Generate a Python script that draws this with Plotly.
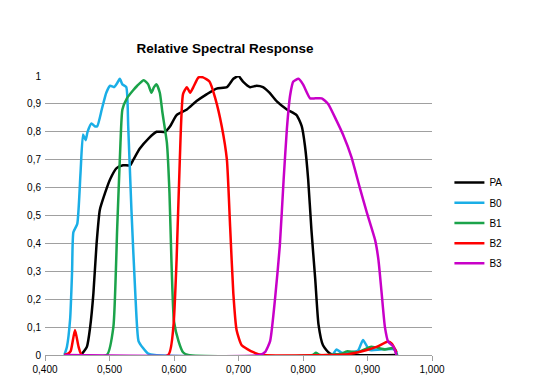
import plotly.graph_objects as go

# ---- data ----
pa_wl = [0.430, 0.455, 0.465, 0.470, 0.475, 0.480, 0.485, 0.493, 0.501, 0.511, 0.521, 0.532, 0.537,
         0.547, 0.560, 0.573, 0.586, 0.594, 0.604, 0.620, 0.635, 0.651, 0.666, 0.682, 0.692, 0.700,
         0.707, 0.718, 0.728, 0.738, 0.748, 0.759, 0.775, 0.790, 0.798, 0.803, 0.808, 0.813, 0.819,
         0.824, 0.831, 0.842, 0.945]
pa_val = [0, 0, 0.03, 0.10, 0.22, 0.40, 0.52, 0.58, 0.63, 0.67, 0.68, 0.68, 0.70,
          0.74, 0.775, 0.80, 0.80, 0.82, 0.86, 0.88, 0.91, 0.935, 0.955, 0.96, 0.99, 1.0,
          0.98, 0.96, 0.965, 0.96, 0.94, 0.91, 0.88, 0.86, 0.82, 0.75, 0.63, 0.45, 0.27,
          0.11, 0.035, 0.005, 0]

b0_wl = [0.430, 0.434, 0.439, 0.442, 0.444, 0.450, 0.455, 0.459, 0.463, 0.466, 0.472, 0.477, 0.481,
         0.488, 0.495, 0.501, 0.507, 0.512, 0.516, 0.520, 0.526, 0.529, 0.534, 0.540, 0.545, 0.552,
         0.560, 0.570, 0.845, 0.852, 0.860, 0.885, 0.893, 0.903, 0.920, 0.943, 0.946]
b0_val = [0, 0.03, 0.13, 0.30, 0.44, 0.47, 0.65, 0.79, 0.77, 0.80, 0.83, 0.82, 0.82,
          0.88, 0.94, 0.965, 0.96, 0.975, 0.99, 0.97, 0.96, 0.82, 0.52, 0.22, 0.05, 0.025,
          0.005, 0, 0, 0.02, 0.008, 0.015, 0.054, 0.018, 0.02, 0.02, 0]

b1_wl = [0.430, 0.496, 0.506, 0.512, 0.517, 0.520, 0.527, 0.537, 0.543, 0.553, 0.560, 0.565, 0.569,
         0.573, 0.578, 0.582, 0.589, 0.593, 0.596, 0.600, 0.607, 0.614, 0.622, 0.815, 0.820, 0.826,
         0.860, 0.868, 0.885, 0.906, 0.927, 0.940, 0.946]
b1_val = [0, 0, 0.10, 0.46, 0.76, 0.88, 0.92, 0.95, 0.965, 0.985, 0.97, 0.94, 0.96,
          0.97, 0.94, 0.87, 0.76, 0.58, 0.34, 0.12, 0.05, 0.01, 0, 0, 0.008, 0,
          0.005, 0.013, 0.01, 0.03, 0.02, 0.025, 0]

b2_wl = [0.430, 0.436, 0.440, 0.4465, 0.452, 0.457, 0.591, 0.599, 0.604, 0.609, 0.614, 0.620, 0.625,
         0.630, 0.638, 0.645, 0.655, 0.664, 0.674, 0.682, 0.687, 0.692, 0.697, 0.705, 0.723, 0.738,
         0.842, 0.870, 0.899, 0.915, 0.932, 0.938, 0.945]
b2_val = [0, 0.005, 0.015, 0.09, 0.03, 0, 0, 0.10, 0.34, 0.70, 0.935, 0.96, 0.94,
          0.96, 0.995, 0.995, 0.98, 0.92, 0.82, 0.70, 0.46, 0.22, 0.09, 0.035, 0.01, 0,
          0, 0.003, 0.018, 0.03, 0.048, 0.04, 0.01]

b3_wl = [0.430, 0.733, 0.741, 0.749, 0.757, 0.764, 0.770, 0.775, 0.780, 0.785, 0.793, 0.800, 0.811,
         0.819, 0.829, 0.839, 0.852, 0.862, 0.875, 0.888, 0.899, 0.912, 0.917, 0.922, 0.927, 0.932,
         0.940, 0.945]
b3_val = [0, 0, 0.01, 0.05, 0.21, 0.39, 0.63, 0.81, 0.93, 0.98, 0.99, 0.97, 0.92,
          0.92, 0.92, 0.90, 0.84, 0.79, 0.71, 0.60, 0.51, 0.41, 0.34, 0.22, 0.10, 0.048,
          0.03, 0.0]

series_names = ["PA", "B0", "B1", "B2", "B3"]
series_colors = ["#000000", "#1AAEE6", "#1BA34A", "#FF0000", "#C800C8"]

x_tick_vals = [0.4, 0.5, 0.6, 0.7, 0.8, 0.9, 1.0]
x_tick_text = ["0,400", "0,500", "0,600", "0,700", "0,800", "0,900", "1,000"]
y_tick_vals = [0, 0.1, 0.2, 0.3, 0.4, 0.5, 0.6, 0.7, 0.8, 0.9, 1.0]
y_tick_text = ["0", "0,1", "0,2", "0,3", "0,4", "0,5", "0,6", "0,7", "0,8", "0,9", "1"]

xs = [pa_wl, b0_wl, b1_wl, b2_wl, b3_wl]
ys = [pa_val, b0_val, b1_val, b2_val, b3_val]

fig = go.Figure()
for name, color, x, y in zip(series_names, series_colors, xs, ys):
    fig.add_trace(go.Scatter(x=x, y=y, mode="lines", name=name, legendgroup=name,
                             line=dict(color=color, width=2.5, shape="spline", smoothing=0.5)))

fig.update_layout(
    width=536, height=387,
    paper_bgcolor="white", plot_bgcolor="white",
    margin=dict(l=37, r=112, t=68, b=40),
    font=dict(family="Liberation Sans, Arial, sans-serif", size=10, color="#000000"),
    title=dict(text="<b>Relative Spectral Response</b>", x=0.465, xref="paper", xanchor="center",
               y=1 - 40 / 387, yanchor="middle", font=dict(size=13.5, color="#000000")),
    legend=dict(x=1.045, xanchor="left", y=0.473, yanchor="middle", font=dict(size=10),
                bgcolor="rgba(0,0,0,0)", itemwidth=30, tracegroupgap=1.2),
    showlegend=True,
)
fig.update_xaxes(range=[0.4, 1.0], tickvals=x_tick_vals, ticktext=x_tick_text,
                 showgrid=False, zeroline=False, showline=True, linecolor="#A0A0A0", linewidth=1,
                 ticks="outside", ticklen=5, tickcolor="#A0A0A0", tickfont=dict(size=10))
fig.update_yaxes(range=[0, 1.0], tickvals=y_tick_vals, ticktext=y_tick_text,
                 showgrid=True, gridcolor="#A0A0A0", gridwidth=1, zeroline=False, showline=False,
                 ticks="", ticklabelstandoff=3, tickfont=dict(size=10))

fig.write_html("out.html")
